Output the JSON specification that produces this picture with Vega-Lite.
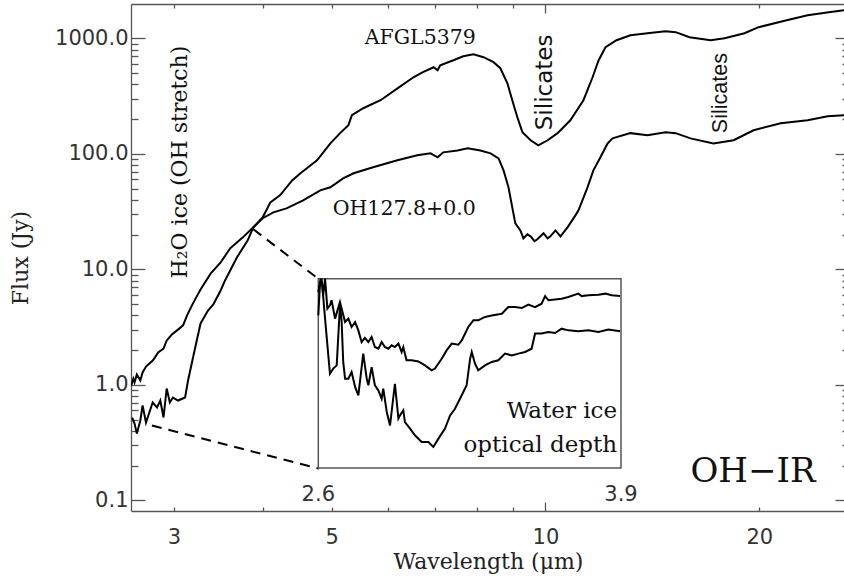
{
  "$schema": "https://vega.github.io/schema/vega-lite/v6.json",
  "width": 714,
  "height": 507,
  "autosize": {"type": "none"},
  "padding": {"left": 131, "top": 4, "right": 0, "bottom": 70},
  "background": "white",
  "config": {
    "view": {"stroke": null},
    "axis": {
      "grid": false, "domainColor": "#555", "tickColor": "#555", "domainWidth": 1.3, "tickWidth": 1.3,
      "labelFont": "DejaVu Sans", "labelFontSize": 21, "labelColor": "#333",
      "titleFont": "DejaVu Serif", "titleFontSize": 22, "titleFontWeight": "normal", "titleColor": "#222",
      "labelFlush": false, "labelOverlap": false
    }
  },
  "datasets": {
    "spectra": [
      {"s":"AFGL5379","w":2.62,"f":0.521},{"s":"AFGL5379","w":2.64,"f":0.462},{"s":"AFGL5379","w":2.66,"f":0.378},{"s":"AFGL5379","w":2.69,"f":0.491},{"s":"AFGL5379","w":2.71,"f":0.662},{"s":"AFGL5379","w":2.74,"f":0.471},{"s":"AFGL5379","w":2.8,"f":0.703},{"s":"AFGL5379","w":2.84,"f":0.636},{"s":"AFGL5379","w":2.87,"f":0.731},{"s":"AFGL5379","w":2.9,"f":0.521},{"s":"AFGL5379","w":2.93,"f":0.929},{"s":"AFGL5379","w":2.96,"f":0.703},{"s":"AFGL5379","w":2.99,"f":0.776},{"s":"AFGL5379","w":3.04,"f":0.731},{"s":"AFGL5379","w":3.11,"f":0.776},{"s":"AFGL5379","w":3.14,"f":1.09},{"s":"AFGL5379","w":3.18,"f":1.56},{"s":"AFGL5379","w":3.23,"f":2.42},{"s":"AFGL5379","w":3.27,"f":3.4},{"s":"AFGL5379","w":3.3,"f":3.75},{"s":"AFGL5379","w":3.35,"f":4.4},{"s":"AFGL5379","w":3.41,"f":5.0},{"s":"AFGL5379","w":3.49,"f":6.56},{"s":"AFGL5379","w":3.54,"f":8.01},{"s":"AFGL5379","w":3.68,"f":12.7},{"s":"AFGL5379","w":3.81,"f":17.8},{"s":"AFGL5379","w":3.88,"f":23.1},{"s":"AFGL5379","w":4.0,"f":28.2},{"s":"AFGL5379","w":4.1,"f":38.0},{"s":"AFGL5379","w":4.23,"f":43.7},{"s":"AFGL5379","w":4.4,"f":58.9},{"s":"AFGL5379","w":4.52,"f":67.8},{"s":"AFGL5379","w":4.77,"f":87.8},{"s":"AFGL5379","w":4.98,"f":123},{"s":"AFGL5379","w":5.14,"f":151},{"s":"AFGL5379","w":5.28,"f":177},{"s":"AFGL5379","w":5.34,"f":216},{"s":"AFGL5379","w":5.54,"f":248},{"s":"AFGL5379","w":5.86,"f":291},{"s":"AFGL5379","w":6.19,"f":369},{"s":"AFGL5379","w":6.52,"f":460},{"s":"AFGL5379","w":6.71,"f":508},{"s":"AFGL5379","w":6.96,"f":562},{"s":"AFGL5379","w":7.05,"f":529},{"s":"AFGL5379","w":7.11,"f":585},{"s":"AFGL5379","w":7.42,"f":646},{"s":"AFGL5379","w":7.66,"f":700},{"s":"AFGL5379","w":7.92,"f":728},{"s":"AFGL5379","w":8.18,"f":686},{"s":"AFGL5379","w":8.45,"f":621},{"s":"AFGL5379","w":8.64,"f":551},{"s":"AFGL5379","w":8.84,"f":408},{"s":"AFGL5379","w":8.98,"f":291},{"s":"AFGL5379","w":9.13,"f":207},{"s":"AFGL5379","w":9.28,"f":154},{"s":"AFGL5379","w":9.53,"f":131},{"s":"AFGL5379","w":9.77,"f":118.5},{"s":"AFGL5379","w":10.07,"f":131},{"s":"AFGL5379","w":10.4,"f":151},{"s":"AFGL5379","w":10.84,"f":195},{"s":"AFGL5379","w":11.31,"f":291},{"s":"AFGL5379","w":11.65,"f":460},{"s":"AFGL5379","w":11.88,"f":646},{"s":"AFGL5379","w":12.15,"f":837},{"s":"AFGL5379","w":12.59,"f":963},{"s":"AFGL5379","w":13.17,"f":1064},{"s":"AFGL5379","w":13.92,"f":1107},{"s":"AFGL5379","w":14.76,"f":1152},{"s":"AFGL5379","w":15.25,"f":1130},{"s":"AFGL5379","w":15.95,"f":1022},{"s":"AFGL5379","w":17.08,"f":963},{"s":"AFGL5379","w":17.87,"f":1002},{"s":"AFGL5379","w":19.06,"f":1107},{"s":"AFGL5379","w":19.95,"f":1248},{"s":"AFGL5379","w":21.85,"f":1435},{"s":"AFGL5379","w":23.39,"f":1586},{"s":"AFGL5379","w":25.04,"f":1683},{"s":"AFGL5379","w":26.4,"f":1752},
      {"s":"OH127.8+0.0","w":2.61,"f":0.98},{"s":"OH127.8+0.0","w":2.63,"f":1.13},{"s":"OH127.8+0.0","w":2.64,"f":1.05},{"s":"OH127.8+0.0","w":2.66,"f":1.23},{"s":"OH127.8+0.0","w":2.69,"f":1.09},{"s":"OH127.8+0.0","w":2.71,"f":1.28},{"s":"OH127.8+0.0","w":2.74,"f":1.44},{"s":"OH127.8+0.0","w":2.8,"f":1.62},{"s":"OH127.8+0.0","w":2.82,"f":1.72},{"s":"OH127.8+0.0","w":2.85,"f":1.91},{"s":"OH127.8+0.0","w":2.9,"f":2.06},{"s":"OH127.8+0.0","w":2.93,"f":2.42},{"s":"OH127.8+0.0","w":2.98,"f":2.73},{"s":"OH127.8+0.0","w":3.03,"f":2.96},{"s":"OH127.8+0.0","w":3.09,"f":3.27},{"s":"OH127.8+0.0","w":3.13,"f":3.99},{"s":"OH127.8+0.0","w":3.18,"f":4.87},{"s":"OH127.8+0.0","w":3.23,"f":5.83},{"s":"OH127.8+0.0","w":3.27,"f":6.7},{"s":"OH127.8+0.0","w":3.38,"f":9.21},{"s":"OH127.8+0.0","w":3.49,"f":11.5},{"s":"OH127.8+0.0","w":3.6,"f":15.2},{"s":"OH127.8+0.0","w":3.75,"f":18.9},{"s":"OH127.8+0.0","w":3.88,"f":23.1},{"s":"OH127.8+0.0","w":4.0,"f":27.7},{"s":"OH127.8+0.0","w":4.14,"f":31.1},{"s":"OH127.8+0.0","w":4.32,"f":33.7},{"s":"OH127.8+0.0","w":4.56,"f":39.5},{"s":"OH127.8+0.0","w":4.82,"f":48.3},{"s":"OH127.8+0.0","w":4.98,"f":51.3},{"s":"OH127.8+0.0","w":5.19,"f":61.3},{"s":"OH127.8+0.0","w":5.37,"f":67.8},{"s":"OH127.8+0.0","w":5.72,"f":76.4},{"s":"OH127.8+0.0","w":6.19,"f":87.8},{"s":"OH127.8+0.0","w":6.6,"f":97.0},{"s":"OH127.8+0.0","w":6.89,"f":101},{"s":"OH127.8+0.0","w":7.05,"f":93.3},{"s":"OH127.8+0.0","w":7.18,"f":103},{"s":"OH127.8+0.0","w":7.52,"f":107},{"s":"OH127.8+0.0","w":7.77,"f":111.6},{"s":"OH127.8+0.0","w":8.1,"f":107},{"s":"OH127.8+0.0","w":8.37,"f":101},{"s":"OH127.8+0.0","w":8.59,"f":91.4},{"s":"OH127.8+0.0","w":8.73,"f":71.9},{"s":"OH127.8+0.0","w":8.87,"f":51.3},{"s":"OH127.8+0.0","w":8.98,"f":34.4},{"s":"OH127.8+0.0","w":9.07,"f":25.0},{"s":"OH127.8+0.0","w":9.22,"f":21.7},{"s":"OH127.8+0.0","w":9.31,"f":18.5},{"s":"OH127.8+0.0","w":9.43,"f":20.1},{"s":"OH127.8+0.0","w":9.53,"f":19.3},{"s":"OH127.8+0.0","w":9.65,"f":17.5},{"s":"OH127.8+0.0","w":9.74,"f":18.2},{"s":"OH127.8+0.0","w":9.84,"f":19.3},{"s":"OH127.8+0.0","w":9.94,"f":20.5},{"s":"OH127.8+0.0","w":10.07,"f":18.5},{"s":"OH127.8+0.0","w":10.16,"f":19.3},{"s":"OH127.8+0.0","w":10.33,"f":21.7},{"s":"OH127.8+0.0","w":10.5,"f":19.3},{"s":"OH127.8+0.0","w":10.74,"f":23.1},{"s":"OH127.8+0.0","w":11.02,"f":29.3},{"s":"OH127.8+0.0","w":11.13,"f":32.4},{"s":"OH127.8+0.0","w":11.46,"f":51.3},{"s":"OH127.8+0.0","w":11.68,"f":71.9},{"s":"OH127.8+0.0","w":11.95,"f":93.3},{"s":"OH127.8+0.0","w":12.23,"f":123},{"s":"OH127.8+0.0","w":12.43,"f":136},{"s":"OH127.8+0.0","w":13.17,"f":151},{"s":"OH127.8+0.0","w":13.92,"f":145},{"s":"OH127.8+0.0","w":14.76,"f":154},{"s":"OH127.8+0.0","w":15.25,"f":151},{"s":"OH127.8+0.0","w":16.0,"f":136},{"s":"OH127.8+0.0","w":17.24,"f":123},{"s":"OH127.8+0.0","w":18.4,"f":131},{"s":"OH127.8+0.0","w":19.63,"f":160},{"s":"OH127.8+0.0","w":21.43,"f":184},{"s":"OH127.8+0.0","w":23.39,"f":195},{"s":"OH127.8+0.0","w":24.96,"f":211},{"s":"OH127.8+0.0","w":26.4,"f":216}
    ],
    "dash": [
      {"g":"top","w":3.88,"f":22.2},{"g":"top","w":4.795,"f":8.23},
      {"g":"bottom","w":2.793,"f":0.444},{"g":"bottom","w":4.795,"f":0.188}
    ],
    "inset": [
      {"s":"u","w":2.6,"v":0.806},{"s":"u","w":2.607,"v":0.965},{"s":"u","w":2.614,"v":1.0},{"s":"u","w":2.621,"v":0.912},{"s":"u","w":2.629,"v":1.0},{"s":"u","w":2.639,"v":0.842},{"s":"u","w":2.65,"v":0.859},{"s":"u","w":2.657,"v":0.886},{"s":"u","w":2.672,"v":0.789},{"s":"u","w":2.693,"v":0.877},{"s":"u","w":2.715,"v":0.771},{"s":"u","w":2.729,"v":0.789},{"s":"u","w":2.743,"v":0.745},{"s":"u","w":2.758,"v":0.771},{"s":"u","w":2.772,"v":0.727},{"s":"u","w":2.786,"v":0.665},{"s":"u","w":2.8,"v":0.687},{"s":"u","w":2.815,"v":0.665},{"s":"u","w":2.829,"v":0.692},{"s":"u","w":2.843,"v":0.639},{"s":"u","w":2.858,"v":0.63},{"s":"u","w":2.872,"v":0.665},{"s":"u","w":2.886,"v":0.639},{"s":"u","w":2.901,"v":0.63},{"s":"u","w":2.915,"v":0.648},{"s":"u","w":2.929,"v":0.639},{"s":"u","w":2.944,"v":0.657},{"s":"u","w":2.958,"v":0.613},{"s":"u","w":2.965,"v":0.639},{"s":"u","w":2.979,"v":0.569},{"s":"u","w":3.001,"v":0.569},{"s":"u","w":3.03,"v":0.563},{"s":"u","w":3.058,"v":0.542},{"s":"u","w":3.087,"v":0.516},{"s":"u","w":3.101,"v":0.525},{"s":"u","w":3.13,"v":0.577},{"s":"u","w":3.151,"v":0.621},{"s":"u","w":3.173,"v":0.657},{"s":"u","w":3.201,"v":0.651},{"s":"u","w":3.216,"v":0.674},{"s":"u","w":3.244,"v":0.745},{"s":"u","w":3.266,"v":0.78},{"s":"u","w":3.287,"v":0.78},{"s":"u","w":3.316,"v":0.798},{"s":"u","w":3.345,"v":0.806},{"s":"u","w":3.388,"v":0.815},{"s":"u","w":3.416,"v":0.85},{"s":"u","w":3.445,"v":0.85},{"s":"u","w":3.474,"v":0.845},{"s":"u","w":3.502,"v":0.863},{"s":"u","w":3.531,"v":0.85},{"s":"u","w":3.559,"v":0.868},{"s":"u","w":3.574,"v":0.908},{"s":"u","w":3.588,"v":0.886},{"s":"u","w":3.645,"v":0.894},{"s":"u","w":3.674,"v":0.903},{"s":"u","w":3.717,"v":0.921},{"s":"u","w":3.731,"v":0.908},{"s":"u","w":3.76,"v":0.912},{"s":"u","w":3.803,"v":0.915},{"s":"u","w":3.832,"v":0.921},{"s":"u","w":3.86,"v":0.912},{"s":"u","w":3.896,"v":0.908},
      {"s":"l","w":2.6,"v":0.93},{"s":"l","w":2.61,"v":1.0},{"s":"l","w":2.617,"v":0.965},{"s":"l","w":2.629,"v":0.789},{"s":"l","w":2.643,"v":0.595},{"s":"l","w":2.65,"v":0.498},{"s":"l","w":2.664,"v":0.525},{"s":"l","w":2.679,"v":0.542},{"s":"l","w":2.693,"v":0.859},{"s":"l","w":2.7,"v":0.78},{"s":"l","w":2.707,"v":0.56},{"s":"l","w":2.715,"v":0.472},{"s":"l","w":2.729,"v":0.472},{"s":"l","w":2.743,"v":0.507},{"s":"l","w":2.758,"v":0.428},{"s":"l","w":2.772,"v":0.384},{"s":"l","w":2.793,"v":0.604},{"s":"l","w":2.808,"v":0.472},{"s":"l","w":2.815,"v":0.437},{"s":"l","w":2.829,"v":0.533},{"s":"l","w":2.843,"v":0.437},{"s":"l","w":2.858,"v":0.41},{"s":"l","w":2.872,"v":0.366},{"s":"l","w":2.879,"v":0.419},{"s":"l","w":2.894,"v":0.296},{"s":"l","w":2.908,"v":0.225},{"s":"l","w":2.929,"v":0.445},{"s":"l","w":2.944,"v":0.261},{"s":"l","w":2.951,"v":0.278},{"s":"l","w":2.965,"v":0.305},{"s":"l","w":2.972,"v":0.243},{"s":"l","w":2.994,"v":0.208},{"s":"l","w":3.015,"v":0.173},{"s":"l","w":3.044,"v":0.137},{"s":"l","w":3.073,"v":0.137},{"s":"l","w":3.094,"v":0.111},{"s":"l","w":3.116,"v":0.155},{"s":"l","w":3.144,"v":0.208},{"s":"l","w":3.166,"v":0.278},{"s":"l","w":3.187,"v":0.313},{"s":"l","w":3.216,"v":0.384},{"s":"l","w":3.237,"v":0.437},{"s":"l","w":3.252,"v":0.577},{"s":"l","w":3.259,"v":0.613},{"s":"l","w":3.273,"v":0.551},{"s":"l","w":3.287,"v":0.516},{"s":"l","w":3.316,"v":0.542},{"s":"l","w":3.345,"v":0.56},{"s":"l","w":3.373,"v":0.569},{"s":"l","w":3.402,"v":0.604},{"s":"l","w":3.431,"v":0.595},{"s":"l","w":3.459,"v":0.604},{"s":"l","w":3.488,"v":0.613},{"s":"l","w":3.516,"v":0.63},{"s":"l","w":3.531,"v":0.71},{"s":"l","w":3.559,"v":0.71},{"s":"l","w":3.588,"v":0.718},{"s":"l","w":3.617,"v":0.713},{"s":"l","w":3.645,"v":0.736},{"s":"l","w":3.674,"v":0.727},{"s":"l","w":3.717,"v":0.722},{"s":"l","w":3.76,"v":0.727},{"s":"l","w":3.803,"v":0.718},{"s":"l","w":3.846,"v":0.732},{"s":"l","w":3.896,"v":0.722}
    ]
  },
  "layer": [
    {
      "layer": [
        {
          "data": {"name": "spectra"},
          "mark": {"type": "line", "color": "black", "strokeWidth": 2, "clip": true},
          "encoding": {
            "x": {
              "field": "w", "type": "quantitative",
              "scale": {"type": "log", "domain": [2.61, 26.4], "nice": false},
              "axis": {
                "orient": "bottom", "values": [3,4,5,6,7,8,9,10,20],
                "labelExpr": "indexof([3,5,10,20], datum.value) >= 0 ? datum.label : ''",
                "tickSize": {"condition": {"test": "datum.value == 10", "value": -9}, "value": -4},
                "labelPadding": {"condition": {"test": "datum.value == 10", "value": 24}, "value": 19},
                "title": "Wavelength (μm)", "titlePadding": 4
              }
            },
            "y": {
              "field": "f", "type": "quantitative",
              "scale": {"type": "log", "domain": [0.0808, 1982], "nice": false},
              "axis": {
                "orient": "left",
                "values": [0.1,0.2,0.3,0.4,0.5,0.6,0.7,0.8,0.9,1,2,3,4,5,6,7,8,9,10,20,30,40,50,60,70,80,90,100,200,300,400,500,600,700,800,900,1000],
                "labelExpr": "indexof([0.1,1,10,100,1000], datum.value) >= 0 ? format(datum.value, '.1f') : ''",
                "tickSize": {"condition": {"test": "indexof([0.1,1,10,100,1000], datum.value) >= 0", "value": -14}, "value": -7},
                "labelPadding": 17,
                "title": "Flux (Jy)", "titlePadding": 22
              }
            },
            "detail": {"field": "s"}
          }
        },
        {
          "data": {"name": "dash"},
          "mark": {"type": "line", "color": "black", "strokeWidth": 2, "strokeDash": [10, 7]},
          "encoding": {
            "x": {
              "field": "w", "type": "quantitative",
              "axis": {
                "orient": "top", "values": [3,4,5,6,7,8,9,10,20], "labels": false, "title": null,
                "tickSize": {"condition": {"test": "datum.value == 10", "value": -9}, "value": -4}
              }
            },
            "y": {
              "field": "f", "type": "quantitative",
              "axis": {
                "orient": "right", "labels": false, "title": null,
                "values": [0.1,0.2,0.3,0.4,0.5,0.6,0.7,0.8,0.9,1,2,3,4,5,6,7,8,9,10,20,30,40,50,60,70,80,90,100,200,300,400,500,600,700,800,900,1000],
                "tickSize": {"condition": {"test": "indexof([0.1,1,10,100,1000], datum.value) >= 0", "value": -10}, "value": -3}
              }
            },
            "detail": {"field": "g"}
          }
        },
        {
          "data": {"values": [{"t": "AFGL5379", "w": 7.98, "f": 889}, {"t": "OH127.8+0.0", "w": 7.98, "f": 29.7}]},
          "mark": {"type": "text", "font": "DejaVu Serif", "fontSize": 20.5, "align": "right", "baseline": "alphabetic", "color": "#111"},
          "encoding": {
            "x": {"field": "w", "type": "quantitative", "axis": null},
            "y": {"field": "f", "type": "quantitative", "axis": null},
            "text": {"field": "t"}
          }
        },
        {
          "data": {"values": [{"t": "H₂O ice (OH stretch)", "w": 3.06, "f": 8.34}]},
          "mark": {"type": "text", "font": "DejaVu Serif", "fontSize": 22, "angle": 270, "align": "left", "baseline": "middle", "color": "#111"},
          "encoding": {
            "x": {"field": "w", "type": "quantitative", "axis": null},
            "y": {"field": "f", "type": "quantitative", "axis": null},
            "text": {"field": "t"}
          }
        },
        {
          "data": {"values": [{"t": "Silicates", "w": 9.98, "f": 160}]},
          "mark": {"type": "text", "font": "DejaVu Sans", "fontSize": 23, "angle": 270, "align": "left", "baseline": "middle", "color": "#111"},
          "encoding": {
            "x": {"field": "w", "type": "quantitative", "axis": null},
            "y": {"field": "f", "type": "quantitative", "axis": null},
            "text": {"field": "t"}
          }
        },
        {
          "data": {"values": [{"t": "Silicates", "w": 17.64, "f": 151}]},
          "mark": {"type": "text", "font": "Liberation Sans", "fontSize": 21.5, "angle": 270, "align": "left", "baseline": "middle", "color": "#111"},
          "encoding": {
            "x": {"field": "w", "type": "quantitative", "axis": null},
            "y": {"field": "f", "type": "quantitative", "axis": null},
            "text": {"field": "t"}
          }
        },
        {
          "data": {"values": [{"t": "OH−IR", "w": 16.0, "f": 0.143}]},
          "mark": {"type": "text", "font": "DejaVu Serif", "fontSize": 34, "align": "left", "baseline": "alphabetic", "color": "#111"},
          "encoding": {
            "x": {"field": "w", "type": "quantitative", "axis": null},
            "y": {"field": "f", "type": "quantitative", "axis": null},
            "text": {"field": "t"}
          }
        }
      ],
      "resolve": {"axis": {"x": "independent", "y": "independent"}}
    },
    {
      "layer": [
        {
          "data": {"values": [{"x0": 2.6, "x1": 3.9, "y0": 0, "y1": 1}]},
          "mark": {"type": "rect", "fill": "white", "stroke": "#555", "strokeWidth": 1.5},
          "encoding": {
            "x": {"field": "x0", "type": "quantitative", "scale": {"domain": [1.7956, 4.862], "nice": false, "zero": false}, "axis": null},
            "x2": {"field": "x1"},
            "y": {"field": "y0", "type": "quantitative", "scale": {"domain": [-0.2272, 2.451], "nice": false, "zero": false}, "axis": null},
            "y2": {"field": "y1"}
          }
        },
        {
          "data": {"name": "inset"},
          "mark": {"type": "line", "color": "black", "strokeWidth": 2},
          "encoding": {
            "x": {"field": "w", "type": "quantitative", "scale": {"domain": [1.7956, 4.862], "nice": false, "zero": false}, "axis": null},
            "y": {"field": "v", "type": "quantitative", "scale": {"domain": [-0.2272, 2.451], "nice": false, "zero": false}, "axis": null},
            "detail": {"field": "s"}
          }
        },
        {
          "data": {"values": [{"t": "Water ice", "w": 3.883, "v": 0.264}, {"t": "optical depth", "w": 3.883, "v": 0.086}]},
          "mark": {"type": "text", "font": "DejaVu Serif", "fontSize": 23, "align": "right", "baseline": "alphabetic", "color": "#111"},
          "encoding": {
            "x": {"field": "w", "type": "quantitative", "axis": null},
            "y": {"field": "v", "type": "quantitative", "axis": null},
            "text": {"field": "t"}
          }
        },
        {
          "data": {"values": [{"t": "2.6", "w": 2.6, "v": -0.174}, {"t": "3.9", "w": 3.9, "v": -0.174}]},
          "mark": {"type": "text", "font": "DejaVu Sans", "fontSize": 21, "align": "center", "baseline": "alphabetic", "color": "#333"},
          "encoding": {
            "x": {"field": "w", "type": "quantitative", "axis": null},
            "y": {"field": "v", "type": "quantitative", "axis": null},
            "text": {"field": "t"}
          }
        }
      ]
    }
  ],
  "resolve": {"scale": {"x": "independent", "y": "independent"}}
}
